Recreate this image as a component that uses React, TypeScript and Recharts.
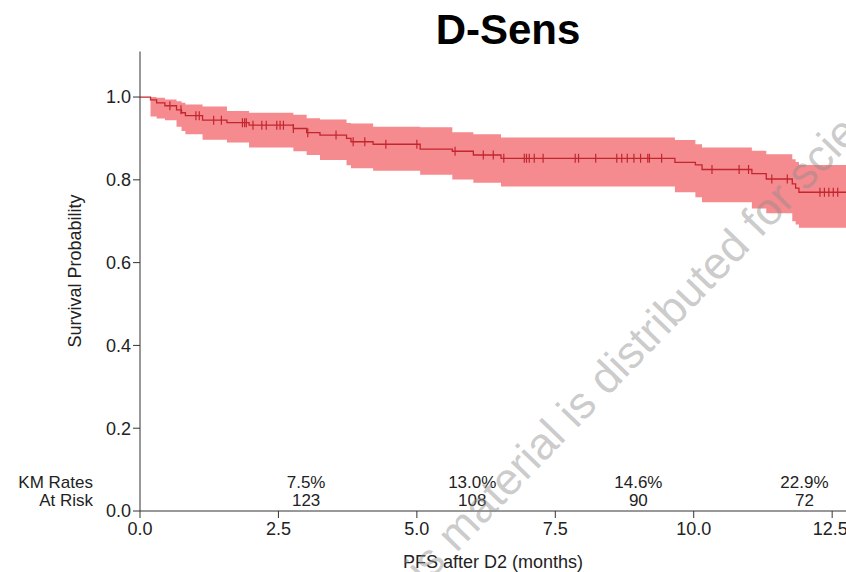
import React from 'react';
import { ComposedChart, Area, Line, Scatter, XAxis, YAxis } from 'recharts';

// Kaplan-Meier step data (months, survival, 95% CI)
const eventTimes = [0, 0.19, 0.3, 0.45, 0.66, 0.75, 0.82, 1.13, 1.57, 1.97, 2.77, 3.01, 3.25, 3.73, 3.81, 4.21, 5.06, 5.64, 6.02, 6.52, 9.66, 10.03, 10.15, 11.05, 11.31, 11.78, 11.84, 11.9];
const survival = [1, 0.993, 0.986, 0.979, 0.969, 0.962, 0.955, 0.944, 0.938, 0.932, 0.924, 0.914, 0.908, 0.9, 0.892, 0.886, 0.874, 0.869, 0.86, 0.852, 0.842, 0.836, 0.825, 0.815, 0.802, 0.79, 0.78, 0.77];
const lowerCI = [1, 0.953, 0.948, 0.944, 0.928, 0.918, 0.91, 0.897, 0.89, 0.878, 0.869, 0.86, 0.848, 0.835, 0.828, 0.822, 0.812, 0.801, 0.793, 0.784, 0.77, 0.758, 0.746, 0.731, 0.719, 0.7, 0.692, 0.684];
const upperCI = [1, 1.0, 0.998, 0.994, 0.99, 0.986, 0.982, 0.977, 0.966, 0.962, 0.957, 0.949, 0.946, 0.937, 0.936, 0.928, 0.927, 0.915, 0.91, 0.902, 0.896, 0.886, 0.878, 0.87, 0.862, 0.85, 0.843, 0.836];
const lastFollowUp = 12.75;

const censorTimes = [0.54, 0.74, 1.01, 1.07, 1.33, 1.47, 1.85, 1.89, 1.92, 2.04, 2.2, 2.28, 2.47, 2.53, 2.59, 2.77, 3.03, 3.54, 3.85, 4.06, 4.44, 5.0, 5.69, 6.2, 6.38, 6.57, 6.94, 6.98, 7.03, 7.12, 7.28, 7.86, 7.92, 8.23, 8.61, 8.7, 8.8, 8.92, 9.04, 9.17, 9.2, 9.42, 10.33, 10.82, 10.99, 11.41, 11.69, 12.28, 12.36, 12.44, 12.52, 12.6];

const kmTimes = [3, 6, 9, 12];
const kmRates = ['7.5%', '13.0%', '14.6%', '22.9%'];
const atRisk = [123, 108, 90, 72];

const xTicks = [0, 2.5, 5, 7.5, 10, 12.5];
const yTicks = [0, 0.2, 0.4, 0.6, 0.8, 1.0];

const FONT = '"Liberation Sans", Arial, Helvetica, sans-serif';
const LINE_COLOR = '#c4262e';
const BAND_COLOR = '#f58a8f';
const AXIS_COLOR = '#333333';

const last = eventTimes.length - 1;
const curveData = eventTimes
  .map((t, i) => ({ t, s: survival[i], band: [lowerCI[i], upperCI[i]] }))
  .concat([{ t: lastFollowUp, s: survival[last], band: [lowerCI[last], upperCI[last]] }]);

function survivalAt(t: number): number {
  let s = survival[0];
  for (let i = 0; i < eventTimes.length; i++) {
    if (eventTimes[i] <= t) s = survival[i];
  }
  return s;
}

const censorData = censorTimes.map((t) => ({ t, s: survivalAt(t) }));
const tableData = kmTimes.map((t, i) => ({ t, s: 0, rate: kmRates[i], risk: atRisk[i] }));

const CensorMark = (props: any) => {
  const { cx, cy } = props;
  if (cx == null || cy == null) return null;
  return <line x1={cx} x2={cx} y1={cy - 4.5} y2={cy + 4.5} stroke={LINE_COLOR} strokeWidth={1.2} />;
};

const TableCell = (props: any) => {
  const { cx, cy, payload } = props;
  if (cx == null || cy == null) return null;
  return (
    <g>
      <text x={cx} y={cy - 23} textAnchor="middle" fontSize={17} fontFamily={FONT} fill="#222">
        {payload.rate}
      </text>
      <text x={cx} y={cy - 5} textAnchor="middle" fontSize={17} fontFamily={FONT} fill="#222">
        {payload.risk}
      </text>
    </g>
  );
};

export default function App() {
  return (
    <div
      style={{
        position: 'fixed',
        left: 0,
        top: 0,
        width: 846,
        height: 572,
        overflow: 'hidden',
        background: '#fff',
      }}
    >
      <ComposedChart
        width={846}
        height={572}
        margin={{ top: 51.5, right: 0, bottom: 21, left: 70 }}
      >
        <XAxis
          dataKey="t"
          type="number"
          domain={[0, lastFollowUp]}
          ticks={xTicks}
          tickFormatter={(v: number) => v.toFixed(1)}
          allowDataOverflow
          height={40}
          tickSize={7}
          tickMargin={4}
          stroke={AXIS_COLOR}
          tick={{ fill: '#222', fontSize: 18, fontFamily: FONT }}
        />
        <YAxis
          type="number"
          domain={[0, 1.11]}
          ticks={yTicks}
          tickFormatter={(v: number) => v.toFixed(1)}
          allowDataOverflow
          width={70}
          tickSize={7}
          tickMargin={2}
          stroke={AXIS_COLOR}
          tick={{ fill: '#222', fontSize: 18, fontFamily: FONT }}
        />
        <Area
          data={curveData}
          dataKey="band"
          type="stepAfter"
          stroke="none"
          fill={BAND_COLOR}
          fillOpacity={1}
          isAnimationActive={false}
          activeDot={false}
        />
        <Line
          data={curveData}
          dataKey="s"
          type="stepAfter"
          stroke={LINE_COLOR}
          strokeWidth={1.3}
          dot={false}
          activeDot={false}
          isAnimationActive={false}
        />
        <Scatter data={censorData} dataKey="s" shape={CensorMark} isAnimationActive={false} />
        <Scatter data={tableData} dataKey="s" shape={TableCell} isAnimationActive={false} />
      </ComposedChart>
      <svg
        width={846}
        height={572}
        style={{ position: 'absolute', left: 0, top: 0, pointerEvents: 'none' }}
      >
        <text x={508} y={44} textAnchor="middle" fontSize={42} fontWeight="bold" fontFamily={FONT} fill="#000">
          D-Sens
        </text>
        <text
          x={81}
          y={271}
          transform="rotate(-90 81 271)"
          textAnchor="middle"
          fontSize={18}
          fontFamily={FONT}
          fill="#222"
        >
          Survival Probability
        </text>
        <text x={93} y={488} textAnchor="end" fontSize={17} fontFamily={FONT} fill="#222">
          KM Rates
        </text>
        <text x={93} y={506} textAnchor="end" fontSize={17} fontFamily={FONT} fill="#222">
          At Risk
        </text>
        <text x={493} y={568} textAnchor="middle" fontSize={18} fontFamily={FONT} fill="#222">
          PFS after D2 (months)
        </text>
        <text
          x={388.6}
          y={623.7}
          transform="rotate(-46 388.6 623.7)"
          fontSize={45}
          fontFamily={FONT}
          fill="#8c8c8c"
          fillOpacity={0.45}
        >
          This material is distributed for scientific exchange.
        </text>
      </svg>
    </div>
  );
}
